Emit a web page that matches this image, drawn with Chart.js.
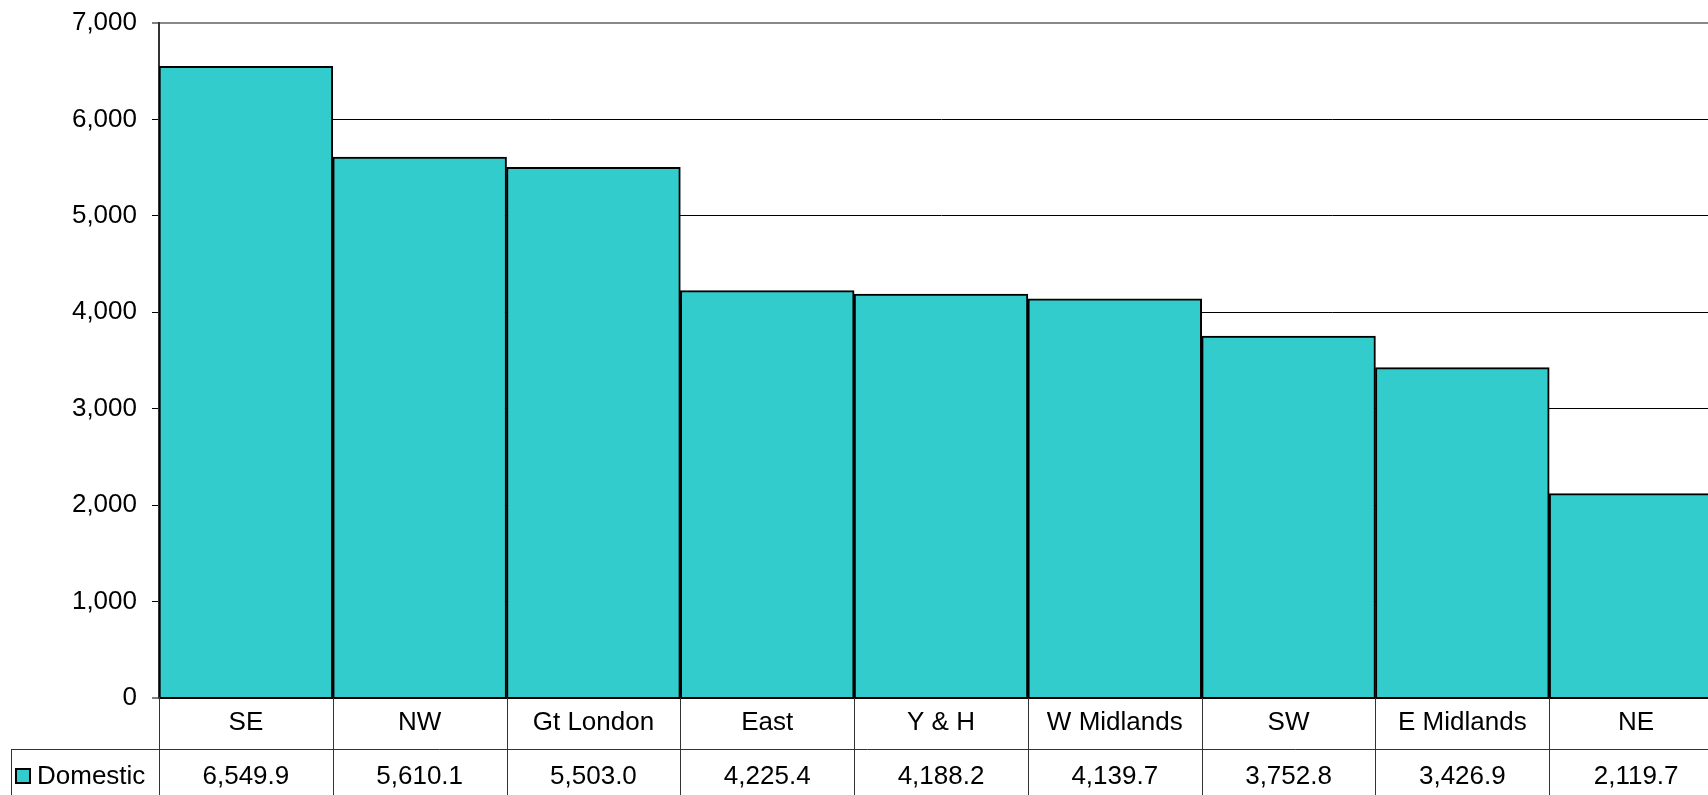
<!DOCTYPE html>
<html>
<head>
<meta charset="utf-8">
<script src="https://cdn.jsdelivr.net/npm/chart.js@4/dist/chart.umd.min.js"></script>
<style>
    html, body { margin: 0; padding: 0; background: #fff; overflow: hidden; }
    #wrap { width: 1724px; height: 795px; }
</style>
</head>
<body>
<div id="wrap"><canvas id="chart" width="1724" height="795"></canvas></div>
<script>
const regions = ["SE", "NW", "Gt London", "East", "Y & H", "W Midlands", "SW", "E Midlands", "NE"];
const domestic = [6549.9, 5610.1, 5503.0, 4225.4, 4188.2, 4139.7, 3752.8, 3426.9, 2119.7];
const seriesName = "Domestic";
const yTicks = [0, 1000, 2000, 3000, 4000, 5000, 6000, 7000];

const fontName = "'Liberation Sans', Arial, sans-serif";
const teal = "#33CCCC";

function fmtValue(v) {
    return v.toLocaleString("en-US", { minimumFractionDigits: 1, maximumFractionDigits: 1 });
}

// data table under the plot, drawn from the category scale
const dataTable = {
    id: "dataTable",
    afterDraw(chart) {
        const ctx = chart.ctx;
        const xs = chart.scales.x;
        const area = chart.chartArea;
        const w = xs.getPixelForValue(1) - xs.getPixelForValue(0);
        const bottom = chart.height;
        const rowY = 749;

        ctx.save();
        ctx.strokeStyle = "#333";
        ctx.lineWidth = 1;

        // vertical cell lines
        for (let i = 0; i <= regions.length; i++) {
            let x = Math.round(xs.getPixelForValue(0) - w / 2 + i * w) + 0.5;
            ctx.beginPath();
            ctx.moveTo(x, area.bottom);
            ctx.lineTo(x, bottom);
            ctx.stroke();
        }
        // row line and legend cell
        ctx.beginPath();
        ctx.moveTo(11, rowY + 0.5);
        ctx.lineTo(chart.width, rowY + 0.5);
        ctx.moveTo(11.5, rowY);
        ctx.lineTo(11.5, bottom);
        ctx.stroke();

        ctx.fillStyle = "#000";
        ctx.font = "26px " + fontName;
        ctx.textAlign = "center";
        ctx.textBaseline = "middle";
        regions.forEach((r, i) => {
            let x = xs.getPixelForValue(i);
            ctx.fillText(r, x, 723);
            ctx.fillText(fmtValue(domestic[i]), x, 777);
        });

        // legend key
        ctx.fillStyle = teal;
        ctx.fillRect(16, 769, 14, 14);
        ctx.strokeStyle = "#000";
        ctx.lineWidth = 2;
        ctx.strokeRect(16, 769, 14, 14);
        ctx.fillStyle = "#000";
        ctx.textAlign = "left";
        ctx.fillText(seriesName, 37, 777);
        ctx.restore();
    }
};

const chart = new Chart(document.getElementById("chart"), {
    type: "bar",
    data: {
        labels: regions,
        datasets: [{
            label: seriesName,
            data: domestic,
            backgroundColor: teal,
            borderColor: "#000",
            borderWidth: 2,
            barPercentage: 1,
            categoryPercentage: 1
        }]
    },
    options: {
        responsive: false,
        animation: false,
        layout: { padding: { left: 0, right: 1, top: 23, bottom: 97 } },
        plugins: {
            legend: { display: false },
            tooltip: { enabled: false }
        },
        scales: {
            x: {
                display: false,
                offset: true
            },
            y: {
                min: 0,
                max: 7000,
                afterFit: (scale) => {
                    scale.width = 159;
                    scale.paddingTop = 0;
                    scale.paddingBottom = 0;
                },
                afterBuildTicks: (scale) => { scale.ticks = yTicks.map(v => ({ value: v })); },
                border: { color: "#333", width: 2 },
                grid: {
                    color: (c) => c.tick && c.tick.value === 7000 ? "#888" : "#000",
                    lineWidth: (c) => c.tick && (c.tick.value === 7000 || c.tick.value === 0) ? 2 : 1,
                    tickColor: "#000",
                    tickLength: 7,
                    tickWidth: 1
                },
                ticks: {
                    color: "#000",
                    padding: 15,
                    font: { family: fontName, size: 26 },
                    callback: (v) => v.toLocaleString("en-US")
                }
            }
        }
    },
    plugins: [dataTable]
});
</script>
</body>
</html>
